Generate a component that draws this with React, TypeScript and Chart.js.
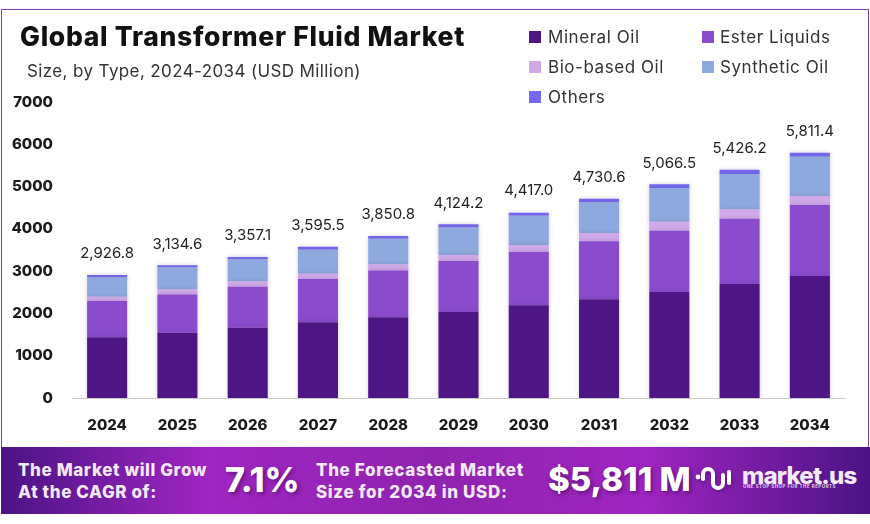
import { useEffect, useRef } from "react";
import { Chart, registerables } from "chart.js";

Chart.register(...registerables);

const years = ["2024", "2025", "2026", "2027", "2028", "2029", "2030", "2031", "2032", "2033", "2034"];
const mineralOil = [1435, 1543, 1663, 1789, 1907, 2033, 2191, 2333, 2506, 2695, 2885];
const esterLiquids = [858, 907, 969, 1024, 1111, 1206, 1261, 1371, 1450, 1545, 1680];
const bioBasedOil = [100, 118, 126, 126, 142, 142, 165, 197, 213, 215, 213];
const syntheticOil = [458, 520, 520, 567, 607, 654, 693, 733, 796, 840, 925];
const others = [55, 52, 55, 71, 63, 71, 71, 79, 87, 100, 95];
const totals = [2926.8, 3134.6, 3357.1, 3595.5, 3850.8, 4124.2, 4417.0, 4730.6, 5066.5, 5426.2, 5811.4];

const colors = {
  mineral: "#4e1585",
  ester: "#8a4bcc",
  bio: "#cfa9e8",
  synthetic: "#8ea9de",
  others: "#7469f0",
};

const legendItems = [
  { label: "Mineral Oil", color: colors.mineral, x: 529, y: 37 },
  { label: "Ester Liquids", color: colors.ester, x: 702, y: 37 },
  { label: "Bio-based Oil", color: colors.bio, x: 529, y: 67 },
  { label: "Synthetic Oil", color: colors.synthetic, x: 702, y: 67 },
  { label: "Others", color: colors.others, x: 529, y: 97 },
];

// totals above each stack
const totalLabels = {
  id: "totalLabels",
  afterDatasetsDraw(chart: Chart) {
    const { ctx, scales } = chart;
    ctx.save();
    ctx.font = "400 15px Inter";
    ctx.fillStyle = "#222";
    ctx.textAlign = "center";
    ctx.textBaseline = "middle";
    totals.forEach((t, i) => {
      const x = scales.x.getPixelForValue(i);
      const y = scales.y.getPixelForValue(t);
      const text = t.toLocaleString("en-US", { minimumFractionDigits: 1, maximumFractionDigits: 1 });
      ctx.fillText(text, x, y - 20.5);
    });
    ctx.restore();
  },
};

const barShadow = {
  id: "barShadow",
  beforeDatasetsDraw(chart: Chart) {
    const { ctx } = chart;
    ctx.save();
    ctx.shadowColor = "rgba(90,60,130,0.25)";
    ctx.shadowBlur = 4;
  },
  afterDatasetsDraw(chart: Chart) {
    chart.ctx.restore();
  },
};

function text(top: number, left: number, size: number, weight: number, color: string, extra = {}) {
  return {
    position: "absolute" as const,
    top,
    left,
    fontSize: size,
    fontWeight: weight,
    color,
    fontFamily: "Inter",
    lineHeight: 1,
    whiteSpace: "nowrap" as const,
    ...extra,
  };
}

export default function App() {
  const chartRef = useRef<HTMLCanvasElement>(null);

  useEffect(() => {
    document.body.style.margin = "0";
    if (!chartRef.current) return;
    const chart = new Chart(chartRef.current, {
      type: "bar",
      data: {
        labels: years,
        datasets: [
          { label: "Mineral Oil", data: mineralOil, backgroundColor: colors.mineral },
          { label: "Ester Liquids", data: esterLiquids, backgroundColor: colors.ester },
          { label: "Bio-based Oil", data: bioBasedOil, backgroundColor: colors.bio },
          { label: "Synthetic Oil", data: syntheticOil, backgroundColor: colors.synthetic },
          { label: "Others", data: others, backgroundColor: colors.others },
        ],
      },
      options: {
        responsive: false,
        animation: false,
        layout: { padding: { top: 102, right: 25, bottom: 0, left: 0 } },
        datasets: { bar: { categoryPercentage: 1, barPercentage: 0.57 } },
        plugins: { legend: { display: false }, tooltip: { enabled: false } },
        scales: {
          x: {
            stacked: true,
            grid: { display: false, drawTicks: false },
            border: { color: "#c9c9c9", width: 1 },
            ticks: { color: "#1a1a1a", font: { family: "Inter", size: 15, weight: 800 }, padding: 18, maxRotation: 0 },
            afterFit: (scale: any) => {
              scale.height = 126;
            },
          },
          y: {
            stacked: true,
            min: 0,
            max: 7000,
            grid: { display: false, drawTicks: false },
            border: { display: false },
            ticks: {
              stepSize: 1000,
              color: "#1a1a1a",
              font: { family: "Inter", size: 15, weight: 800 },
              padding: 19,
              callback: (v: any) => String(v),
            },
            afterFit: (scale: any) => {
              scale.width = 72;
            },
          },
        },
      },
      plugins: [barShadow, totalLabels],
    });
    return () => chart.destroy();
  }, []);

  return (
    <div style={{ position: "relative", width: 870, height: 524, background: "#fff", overflow: "hidden" }}>
      <div style={{ position: "absolute", left: 1, top: 9, width: 866, height: 440, border: "1.5px solid #8a3fa8", borderBottom: "none" }} />
      <canvas ref={chartRef} width={870} height={524} style={{ position: "absolute", left: 0, top: 0, display: "block" }} />

      <div style={text(23, 20, 26.5, 800, "#111", { letterSpacing: 0.7 })}>Global Transformer Fluid Market</div>
      <div style={text(63, 27, 17, 400, "#333", { letterSpacing: 0.38 })}>Size, by Type, 2024-2034 (USD Million)</div>

      {legendItems.map((item) => (
        <div key={item.label}>
          <div style={{ position: "absolute", left: item.x, top: item.y - 6, width: 12, height: 12, background: item.color }} />
          <div style={text(item.y - 8, item.x + (item.x === 529 ? 19 : 18), 17, 400, "#333", { letterSpacing: 0.55 })}>{item.label}</div>
        </div>
      ))}

      <div
        style={{
          position: "absolute",
          left: 1,
          top: 447,
          width: 869,
          height: 67,
          background: "linear-gradient(90deg, #4b1385 0%, #a025c2 24%, #8f23ae 50%, #a025c2 74%, #4b1385 100%)",
        }}
      />
      <div style={text(459, 18, 17, 800, "#f3e9f7", { lineHeight: "22px", letterSpacing: 0.6 })}>
        The Market will Grow
        <br />
        At the CAGR of:
      </div>
      <div style={text(463, 225, 34, 800, "#fff", { textShadow: "2px 2px 4px rgba(40,0,70,0.5)" })}>7.1%</div>
      <div style={text(459, 316, 17, 800, "#f3e9f7", { lineHeight: "22px", letterSpacing: 0.65 })}>
        The Forecasted Market
        <br />
        Size for 2034 in USD:
      </div>
      <div style={text(463, 548, 33, 800, "#fff", { textShadow: "2px 2px 4px rgba(40,0,70,0.5)" })}>$5,811 M</div>

      <svg style={{ position: "absolute", left: 693, top: 465, filter: "drop-shadow(1px 2px 2px rgba(40,0,70,0.4))" }} width={42} height={32} viewBox="0 0 42 32">
        <circle cx="5" cy="12" r="2.4" fill="#fff" />
        <path d="M10 14 V9 A5 5 0 0 1 20 9 V18 A5 5 0 0 0 30 18 V10" fill="none" stroke="#fff" strokeWidth="4" strokeLinecap="round" />
        <path d="M36 7 V18" fill="none" stroke="#fff" strokeWidth="4" strokeLinecap="round" />
      </svg>
      <div style={text(464, 742, 24, 800, "#f3e9f7", { letterSpacing: -0.8 })}>market.us</div>
      <div style={text(485, 743, 4.4, 700, "#e6d6ee", { letterSpacing: 0.55 })}>ONE STOP SHOP FOR THE REPORTS</div>
    </div>
  );
}
